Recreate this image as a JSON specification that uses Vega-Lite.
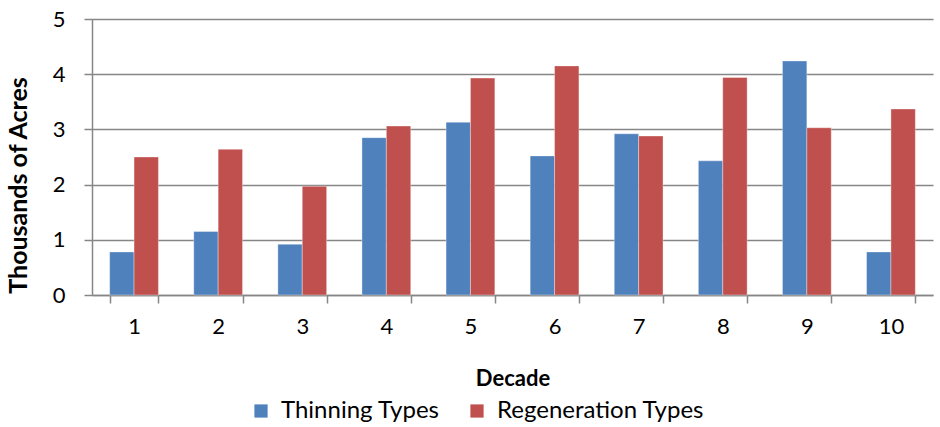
{
  "$schema": "https://vega.github.io/schema/vega-lite/v6.json",
  "width": 841,
  "height": 276,
  "autosize": {"type": "none"},
  "padding": {"left": 92, "top": 19, "right": 7, "bottom": 132},
  "background": "white",
  "config": {
    "font": "Lato",
    "view": {"stroke": null},
    "axis": {
      "labelFont": "Lato",
      "titleFont": "Lato",
      "labelColor": "#000000",
      "titleColor": "#000000",
      "domainColor": "#868686",
      "tickColor": "#868686",
      "gridColor": "#868686",
      "domainWidth": 1.5,
      "tickWidth": 1.5,
      "gridWidth": 1.5
    }
  },
  "data": {
    "values": [
      {"decade": 1, "type": "Thinning Types", "acres": 0.78},
      {"decade": 1, "type": "Regeneration Types", "acres": 2.50},
      {"decade": 2, "type": "Thinning Types", "acres": 1.15},
      {"decade": 2, "type": "Regeneration Types", "acres": 2.64},
      {"decade": 3, "type": "Thinning Types", "acres": 0.92},
      {"decade": 3, "type": "Regeneration Types", "acres": 1.97},
      {"decade": 4, "type": "Thinning Types", "acres": 2.85},
      {"decade": 4, "type": "Regeneration Types", "acres": 3.06},
      {"decade": 5, "type": "Thinning Types", "acres": 3.13},
      {"decade": 5, "type": "Regeneration Types", "acres": 3.93},
      {"decade": 6, "type": "Thinning Types", "acres": 2.52},
      {"decade": 6, "type": "Regeneration Types", "acres": 4.15},
      {"decade": 7, "type": "Thinning Types", "acres": 2.92},
      {"decade": 7, "type": "Regeneration Types", "acres": 2.88},
      {"decade": 8, "type": "Thinning Types", "acres": 2.43},
      {"decade": 8, "type": "Regeneration Types", "acres": 3.94},
      {"decade": 9, "type": "Thinning Types", "acres": 4.24},
      {"decade": 9, "type": "Regeneration Types", "acres": 3.03},
      {"decade": 10, "type": "Thinning Types", "acres": 0.78},
      {"decade": 10, "type": "Regeneration Types", "acres": 3.37}
    ]
  },
  "mark": {"type": "bar", "stroke": "#ffffff", "strokeOpacity": 0.35, "strokeWidth": 1},
  "encoding": {
    "x": {
      "field": "decade",
      "type": "ordinal",
      "title": "Decade",
      "scale": {"paddingInner": 0.42, "paddingOuter": 0.21},
      "axis": {
        "labelAngle": 0,
        "labelFontSize": 22,
        "tickSize": 8,
        "tickBand": "extent",
        "labelPadding": 13,
        "titleFontSize": 22,
        "titleFontWeight": "bold",
        "titlePadding": 31,
        "grid": false
      }
    },
    "xOffset": {"field": "type", "sort": ["Thinning Types", "Regeneration Types"]},
    "y": {
      "field": "acres",
      "type": "quantitative",
      "title": "Thousands of Acres",
      "scale": {"domain": [0, 5], "nice": false},
      "axis": {
        "values": [0, 1, 2, 3, 4, 5],
        "labelFontSize": 22,
        "tickSize": 8,
        "labelPadding": 19,
        "grid": true,
        "titleFontSize": 25,
        "titleFontWeight": "bold",
        "titlePadding": 21,
        "titleY": 166
      }
    },
    "color": {
      "field": "type",
      "type": "nominal",
      "sort": ["Thinning Types", "Regeneration Types"],
      "scale": {"range": ["#4F81BD", "#C0504D"]},
      "legend": {
        "title": null,
        "orient": "none",
        "legendX": 157,
        "legendY": 380,
        "direction": "horizontal",
        "symbolType": "square",
        "symbolSize": 175,
        "symbolStrokeWidth": 0,
        "labelFontSize": 24,
        "labelFont": "Lato",
        "labelColor": "#000000",
        "labelOffset": 8,
        "columnPadding": 25,
        "labelLimit": 300
      }
    }
  }
}
